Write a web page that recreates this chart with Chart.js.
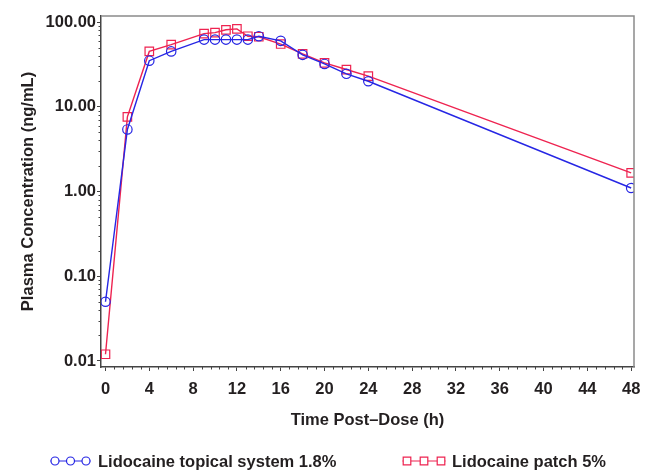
<!DOCTYPE html>
<html>
<head>
<meta charset="utf-8">
<script src="https://cdn.jsdelivr.net/npm/chart.js@4.4.1/dist/chart.umd.min.js"></script>
<style>
  html, body { margin: 0; padding: 0; background: #fff; }
</style>
</head>
<body>
<canvas id="chart-body" width="652" height="472"></canvas>
<script>
// time points (h) and mean plasma concentrations (ng/mL)
const hours = [0, 2, 4, 6, 9, 10, 11, 12, 13, 14, 16, 18, 20, 22, 24, 48];
const topicalSystem = [0.05, 5.4, 35, 45, 62, 62, 62, 62, 62, 68, 60, 41, 32, 24.5, 20, 1.1];
const patch = [0.012, 7.6, 45, 54, 73, 75, 81, 83, 68, 67, 55, 42, 33, 27.5, 23, 1.66];
const seriesNames = ['Lidocaine topical system 1.8%', 'Lidocaine patch 5%'];

const xTicks = [0, 4, 8, 12, 16, 20, 24, 28, 32, 36, 40, 44, 48];
const yTicks = [0.01, 0.1, 1, 10, 100];

const FONT = "'Liberation Sans', Arial, sans-serif";
const INK = '#231f20';
const BLUE = '#2626e4';
const RED = '#ee2350';

function toPoints(values) {
    return hours.map((h, i) => ({ x: h, y: values[i] }));
}

// minor ticks, top/right frame, and the marker-style legend underneath
const extras = {
    id: 'extras',
    afterDraw(chart) {
        const ctx = chart.ctx;
        const area = chart.chartArea;
        const xs = chart.scales.x;
        const ys = chart.scales.y;
        ctx.save();

        ctx.strokeStyle = '#8a8a8a';
        ctx.lineWidth = 1.5;
        ctx.beginPath();
        ctx.moveTo(area.left, area.top);
        ctx.lineTo(area.right, area.top);
        ctx.lineTo(area.right, area.bottom);
        ctx.stroke();

        ctx.strokeStyle = '#444';
        ctx.lineWidth = 1;
        ctx.beginPath();
        for (let i = 0; i <= 60; i++) {
            if (i % 5 === 0) continue;
            const px = Math.round(xs.getPixelForValue(i * 0.8)) + 0.5;
            ctx.moveTo(px, area.bottom);
            ctx.lineTo(px, area.bottom + 2.5);
        }
        for (let p = -2; p < 2; p++) {
            for (let d = 2; d <= 9; d++) {
                const py = Math.round(ys.getPixelForValue(d * Math.pow(10, p))) + 0.5;
                ctx.moveTo(area.left, py);
                ctx.lineTo(area.left - 2.5, py);
            }
        }
        ctx.stroke();

        const legendY = 461;
        const items = [
            { first: 55, gap: 15.5, text: 98 },
            { first: 407, gap: 17, text: 452 }
        ];
        ctx.font = 'bold 16.5px ' + FONT;
        ctx.textBaseline = 'middle';
        chart.data.datasets.forEach((ds, i) => {
            const it = items[i];
            const last = it.first + 2 * it.gap;
            ctx.strokeStyle = ds.borderColor;
            ctx.lineWidth = 1.2;
            ctx.beginPath();
            ctx.moveTo(it.first - 4.5, legendY);
            ctx.lineTo(last + 4.5, legendY);
            ctx.stroke();
            for (let k = 0; k < 3; k++) {
                const cx = it.first + k * it.gap;
                ctx.beginPath();
                if (ds.pointStyle === 'circle') {
                    ctx.arc(cx, legendY, 4, 0, Math.PI * 2);
                } else {
                    ctx.rect(cx - 3.8, legendY - 3.8, 7.6, 7.6);
                }
                ctx.fillStyle = '#fff';
                ctx.fill();
                ctx.stroke();
            }
            ctx.fillStyle = INK;
            ctx.fillText(ds.label, it.text, legendY + 1);
        });
        ctx.restore();
    }
};

const ctx = document.getElementById('chart-body').getContext('2d');
window.chart = new Chart(ctx, {
    type: 'line',
    data: {
        datasets: [
            {
                label: seriesNames[0],
                data: toPoints(topicalSystem),
                borderColor: BLUE,
                borderWidth: 1.4,
                pointStyle: 'circle',
                pointRadius: 4.7,
                pointBorderWidth: 1.2,
                pointBackgroundColor: 'rgba(0,0,0,0)',
                pointBorderColor: BLUE,
                tension: 0
            },
            {
                label: seriesNames[1],
                data: toPoints(patch),
                borderColor: RED,
                borderWidth: 1.4,
                pointStyle: 'rect',
                pointRadius: 6,
                pointBorderWidth: 1.2,
                pointBackgroundColor: 'rgba(0,0,0,0)',
                pointBorderColor: RED,
                tension: 0
            }
        ]
    },
    options: {
        responsive: false,
        animation: { duration: 0 },
        layout: { padding: { top: 16, right: 18, left: 0, bottom: 0 } },
        plugins: {
            legend: { display: false },
            tooltip: { enabled: false }
        },
        scales: {
            x: {
                type: 'linear',
                min: -0.41,
                max: 48.26,
                afterBuildTicks: scale => { scale.ticks = xTicks.map(v => ({ value: v })); },
                afterFit: scale => { scale.height = 105; },
                grid: { drawOnChartArea: false, tickLength: 4, tickColor: '#444' },
                border: { color: '#444', width: 1.5 },
                ticks: {
                    padding: 9,
                    color: INK,
                    font: { family: FONT, size: 16.5, weight: 'bold' },
                    maxRotation: 0,
                    callback: v => String(v)
                },
                title: {
                    display: true,
                    text: 'Time Post\u2013Dose (h)',
                    color: INK,
                    font: { family: FONT, size: 16.5, weight: 'bold' },
                    padding: { top: 0, bottom: 42 }
                }
            },
            y: {
                type: 'logarithmic',
                min: 0.00849,
                max: 117.8,
                afterBuildTicks: scale => { scale.ticks = yTicks.map(v => ({ value: v })); },
                afterFit: scale => { scale.width = 101; },
                grid: { drawOnChartArea: false, tickLength: 4, tickColor: '#444' },
                border: { color: '#444', width: 1.5 },
                ticks: {
                    padding: 1,
                    color: INK,
                    font: { family: FONT, size: 16.5, weight: 'bold' },
                    callback: v => Number(v).toFixed(2)
                },
                title: {
                    display: true,
                    text: 'Plasma Concentration (ng/mL)',
                    color: INK,
                    font: { family: FONT, size: 16.5, weight: 'bold' },
                    padding: { top: 19, bottom: 0 }
                }
            }
        }
    },
    plugins: [extras]
});
</script>
</body>
</html>
